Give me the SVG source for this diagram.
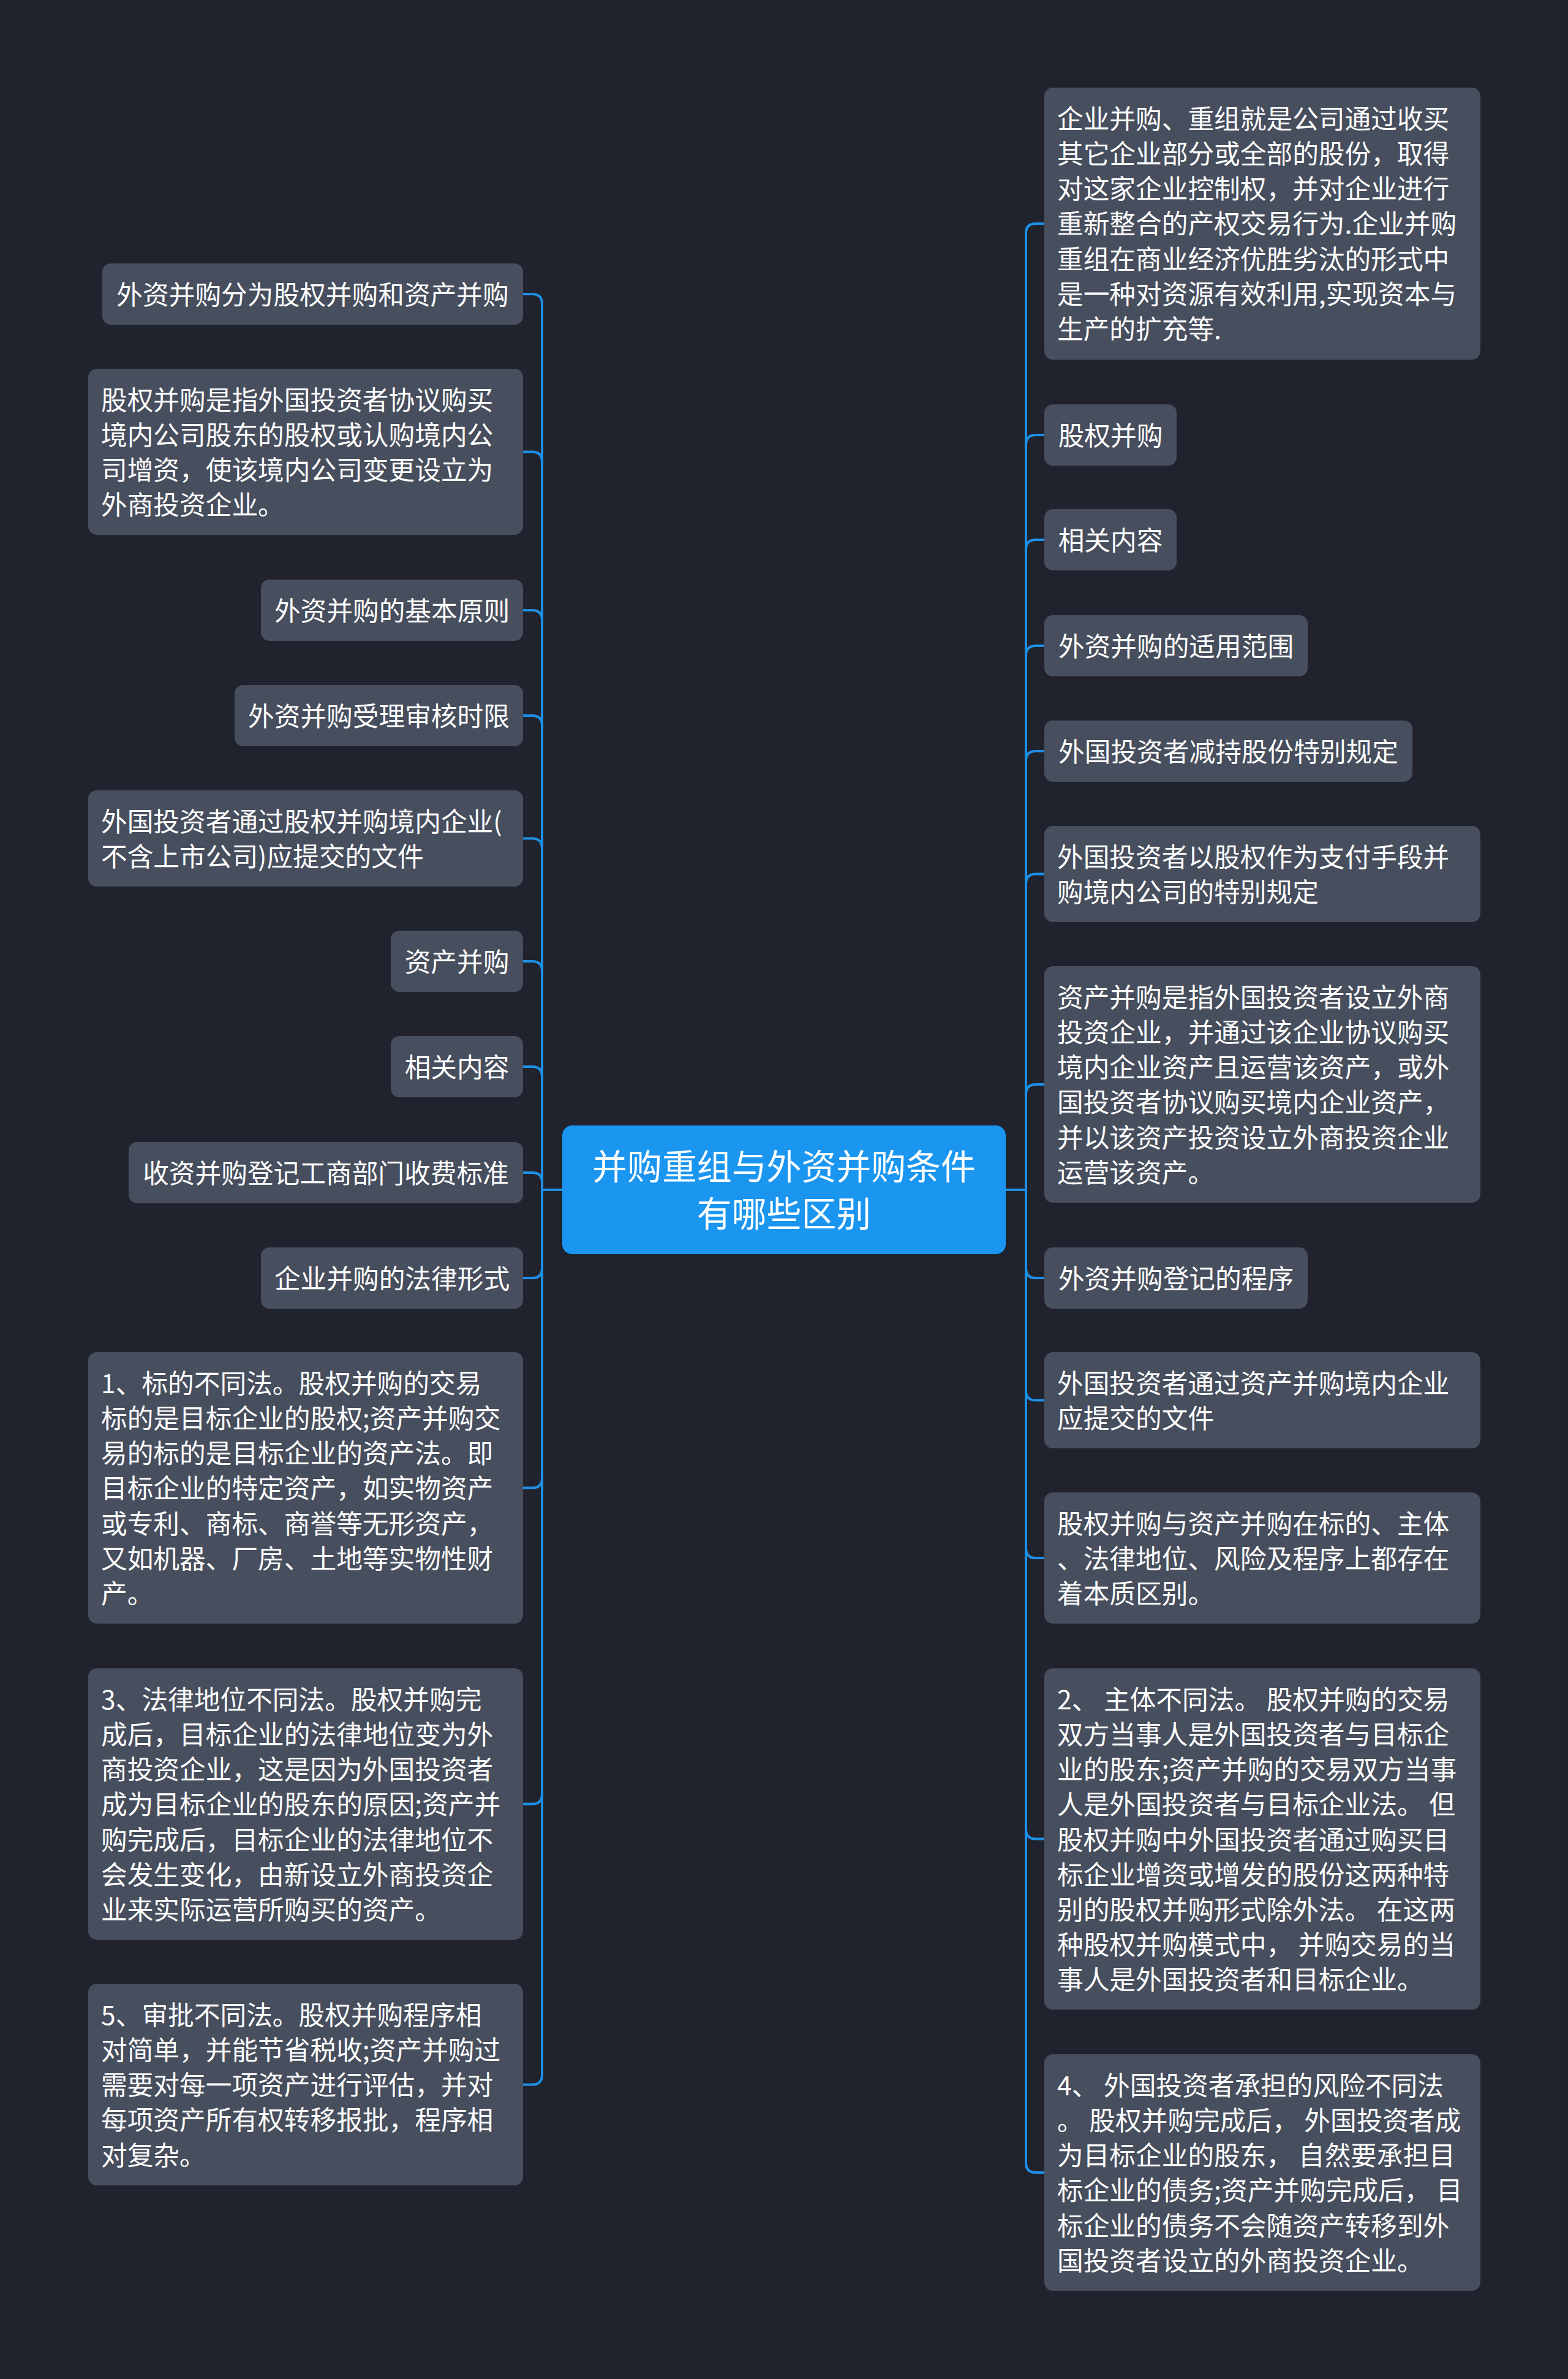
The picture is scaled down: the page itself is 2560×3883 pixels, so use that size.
<svg xmlns="http://www.w3.org/2000/svg" width="2560" height="3883" viewBox="0 0 2560 3883">
<style>
.bg{fill:#20232e}
.n{fill:#474e5d}
.root{fill:#1b96f0}
.t{font-family:"Noto Sans CJK SC","Noto Sans",sans-serif;font-size:42.7px;fill:#ffffff}
.m{text-anchor:middle}
.rt{font-family:"Noto Sans CJK SC","Noto Sans",sans-serif;font-size:56.9px;fill:#ffffff;text-anchor:middle}
.c{fill:none;stroke:#1e90e6;stroke-width:4;stroke-linecap:round;stroke-linejoin:round}
</style>
<rect class="bg" x="0" y="0" width="2560" height="3883"/>
<g id="connectors">
<path class="c" d="M918 1942H885V496Q885 480 869 480H854"/>
<path class="c" d="M918 1942H885V753.5Q885 737.5 869 737.5H854"/>
<path class="c" d="M918 1942H885V1012Q885 996 869 996H854"/>
<path class="c" d="M918 1942H885V1184Q885 1168 869 1168H854"/>
<path class="c" d="M918 1942H885V1384.5Q885 1368.5 869 1368.5H854"/>
<path class="c" d="M918 1942H885V1585Q885 1569 869 1569H854"/>
<path class="c" d="M918 1942H885V1757Q885 1741 869 1741H854"/>
<path class="c" d="M918 1942H885V1930Q885 1914 869 1914H854"/>
<path class="c" d="M918 1942H885V2070Q885 2086 869 2086H854"/>
<path class="c" d="M918 1942H885V2412.5Q885 2428.5 869 2428.5H854"/>
<path class="c" d="M918 1942H885V2928.5Q885 2944.5 869 2944.5H854"/>
<path class="c" d="M918 1942H885V3386.5Q885 3402.5 869 3402.5H854"/>
<path class="c" d="M1642 1942H1675V381Q1675 365 1691 365H1705"/>
<path class="c" d="M1642 1942H1675V726Q1675 710 1691 710H1705"/>
<path class="c" d="M1642 1942H1675V897Q1675 881 1691 881H1705"/>
<path class="c" d="M1642 1942H1675V1070Q1675 1054 1691 1054H1705"/>
<path class="c" d="M1642 1942H1675V1242Q1675 1226 1691 1226H1705"/>
<path class="c" d="M1642 1942H1675V1442.5Q1675 1426.5 1691 1426.5H1705"/>
<path class="c" d="M1642 1942H1675V1786Q1675 1770 1691 1770H1705"/>
<path class="c" d="M1642 1942H1675V2070Q1675 2086 1691 2086H1705"/>
<path class="c" d="M1642 1942H1675V2269.5Q1675 2285.5 1691 2285.5H1705"/>
<path class="c" d="M1642 1942H1675V2527Q1675 2543 1691 2543H1705"/>
<path class="c" d="M1642 1942H1675V2985.5Q1675 3001.5 1691 3001.5H1705"/>
<path class="c" d="M1642 1942H1675V3530Q1675 3546 1691 3546H1705"/>
</g>
<g id="root">
<rect class="root" x="918" y="1837" width="724" height="210" rx="16"/>
<text class="rt" x="1280" y="1925">并购重组与外资并购条件</text>
<text class="rt" x="1280" y="2002">有哪些区别</text>
</g>
<g id="L1"><rect class="n" x="167" y="430" width="687" height="100" rx="14"/><text class="t m" x="510.5" y="497">外资并购分为股权并购和资产并购</text></g>
<g id="L2"><rect class="n" x="144" y="602" width="710" height="271" rx="14"/><text class="t" x="165" y="669">股权并购是指外国投资者协议购买</text><text class="t" x="165" y="726.1">境内公司股东的股权或认购境内公</text><text class="t" x="165" y="783.3">司增资，使该境内公司变更设立为</text><text class="t" x="165" y="840.4">外商投资企业。</text></g>
<g id="L3"><rect class="n" x="426" y="946" width="428" height="100" rx="14"/><text class="t m" x="640" y="1013">外资并购的基本原则</text></g>
<g id="L4"><rect class="n" x="383" y="1118" width="471" height="100" rx="14"/><text class="t m" x="618.5" y="1185">外资并购受理审核时限</text></g>
<g id="L5"><rect class="n" x="144" y="1290" width="710" height="157" rx="14"/><text class="t" x="165" y="1357">外国投资者通过股权并购境内企业(</text><text class="t" x="165" y="1414.1">不含上市公司)应提交的文件</text></g>
<g id="L6"><rect class="n" x="638" y="1519" width="216" height="100" rx="14"/><text class="t m" x="746" y="1586">资产并购</text></g>
<g id="L7"><rect class="n" x="638" y="1691" width="216" height="100" rx="14"/><text class="t m" x="746" y="1758">相关内容</text></g>
<g id="L8"><rect class="n" x="210" y="1864" width="644" height="100" rx="14"/><text class="t m" x="532" y="1931">收资并购登记工商部门收费标准</text></g>
<g id="L9"><rect class="n" x="426" y="2036" width="428" height="100" rx="14"/><text class="t m" x="640" y="2103">企业并购的法律形式</text></g>
<g id="L10"><rect class="n" x="144" y="2207" width="710" height="443" rx="14"/><text class="t" x="165" y="2274">1、标的不同法。股权并购的交易</text><text class="t" x="165" y="2331.1">标的是目标企业的股权;资产并购交</text><text class="t" x="165" y="2388.3">易的标的是目标企业的资产法。即</text><text class="t" x="165" y="2445.4">目标企业的特定资产，如实物资产</text><text class="t" x="165" y="2502.6">或专利、商标、商誉等无形资产，</text><text class="t" x="165" y="2559.7">又如机器、厂房、土地等实物性财</text><text class="t" x="165" y="2616.8">产。</text></g>
<g id="L11"><rect class="n" x="144" y="2723" width="710" height="443" rx="14"/><text class="t" x="165" y="2790">3、法律地位不同法。股权并购完</text><text class="t" x="165" y="2847.1">成后，目标企业的法律地位变为外</text><text class="t" x="165" y="2904.3">商投资企业，这是因为外国投资者</text><text class="t" x="165" y="2961.4">成为目标企业的股东的原因;资产并</text><text class="t" x="165" y="3018.6">购完成后，目标企业的法律地位不</text><text class="t" x="165" y="3075.7">会发生变化，由新设立外商投资企</text><text class="t" x="165" y="3132.8">业来实际运营所购买的资产。</text></g>
<g id="L12"><rect class="n" x="144" y="3238" width="710" height="329" rx="14"/><text class="t" x="165" y="3305">5、审批不同法。股权并购程序相</text><text class="t" x="165" y="3362.1">对简单，并能节省税收;资产并购过</text><text class="t" x="165" y="3419.3">需要对每一项资产进行评估，并对</text><text class="t" x="165" y="3476.4">每项资产所有权转移报批，程序相</text><text class="t" x="165" y="3533.6">对复杂。</text></g>
<g id="R1"><rect class="n" x="1705" y="143" width="712" height="444" rx="14"/><text class="t" x="1726" y="210">企业并购、重组就是公司通过收买</text><text class="t" x="1726" y="267.1">其它企业部分或全部的股份，取得</text><text class="t" x="1726" y="324.3">对这家企业控制权，并对企业进行</text><text class="t" x="1726" y="381.4">重新整合的产权交易行为.企业并购</text><text class="t" x="1726" y="438.6">重组在商业经济优胜劣汰的形式中</text><text class="t" x="1726" y="495.7">是一种对资源有效利用,实现资本与</text><text class="t" x="1726" y="552.8">生产的扩充等.</text></g>
<g id="R2"><rect class="n" x="1705" y="660" width="216" height="100" rx="14"/><text class="t m" x="1813" y="727">股权并购</text></g>
<g id="R3"><rect class="n" x="1705" y="831" width="216" height="100" rx="14"/><text class="t m" x="1813" y="898">相关内容</text></g>
<g id="R4"><rect class="n" x="1705" y="1004" width="430" height="100" rx="14"/><text class="t m" x="1920" y="1071">外资并购的适用范围</text></g>
<g id="R5"><rect class="n" x="1705" y="1176" width="601" height="100" rx="14"/><text class="t m" x="2005.5" y="1243">外国投资者减持股份特别规定</text></g>
<g id="R6"><rect class="n" x="1705" y="1348" width="712" height="157" rx="14"/><text class="t" x="1726" y="1415">外国投资者以股权作为支付手段并</text><text class="t" x="1726" y="1472.1">购境内公司的特别规定</text></g>
<g id="R7"><rect class="n" x="1705" y="1577" width="712" height="386" rx="14"/><text class="t" x="1726" y="1644">资产并购是指外国投资者设立外商</text><text class="t" x="1726" y="1701.1">投资企业，并通过该企业协议购买</text><text class="t" x="1726" y="1758.3">境内企业资产且运营该资产，或外</text><text class="t" x="1726" y="1815.4">国投资者协议购买境内企业资产，</text><text class="t" x="1726" y="1872.6">并以该资产投资设立外商投资企业</text><text class="t" x="1726" y="1929.7">运营该资产。</text></g>
<g id="R8"><rect class="n" x="1705" y="2036" width="430" height="100" rx="14"/><text class="t m" x="1920" y="2103">外资并购登记的程序</text></g>
<g id="R9"><rect class="n" x="1705" y="2207" width="712" height="157" rx="14"/><text class="t" x="1726" y="2274">外国投资者通过资产并购境内企业</text><text class="t" x="1726" y="2331.1">应提交的文件</text></g>
<g id="R10"><rect class="n" x="1705" y="2436" width="712" height="214" rx="14"/><text class="t" x="1726" y="2503">股权并购与资产并购在标的、主体</text><text class="t" x="1726" y="2560.1">、法律地位、风险及程序上都存在</text><text class="t" x="1726" y="2617.3">着本质区别。</text></g>
<g id="R11"><rect class="n" x="1705" y="2723" width="712" height="557" rx="14"/><text class="t" x="1726" y="2790">2、 主体不同法。 股权并购的交易</text><text class="t" x="1726" y="2847.1">双方当事人是外国投资者与目标企</text><text class="t" x="1726" y="2904.3">业的股东;资产并购的交易双方当事</text><text class="t" x="1726" y="2961.4">人是外国投资者与目标企业法。 但</text><text class="t" x="1726" y="3018.6">股权并购中外国投资者通过购买目</text><text class="t" x="1726" y="3075.7">标企业增资或增发的股份这两种特</text><text class="t" x="1726" y="3132.8">别的股权并购形式除外法。 在这两</text><text class="t" x="1726" y="3190">种股权并购模式中， 并购交易的当</text><text class="t" x="1726" y="3247.1">事人是外国投资者和目标企业。</text></g>
<g id="R12"><rect class="n" x="1705" y="3353" width="712" height="386" rx="14"/><text class="t" x="1726" y="3420">4、 外国投资者承担的风险不同法</text><text class="t" x="1726" y="3477.1">。 股权并购完成后， 外国投资者成</text><text class="t" x="1726" y="3534.3">为目标企业的股东， 自然要承担目</text><text class="t" x="1726" y="3591.4">标企业的债务;资产并购完成后， 目</text><text class="t" x="1726" y="3648.6">标企业的债务不会随资产转移到外</text><text class="t" x="1726" y="3705.7">国投资者设立的外商投资企业。</text></g>
</svg>
